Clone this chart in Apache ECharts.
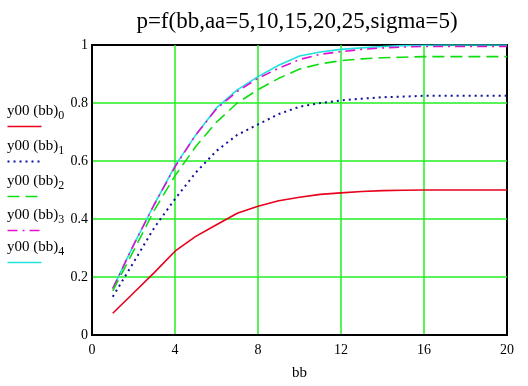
<!DOCTYPE html>
<html>
<head>
<meta charset="utf-8">
<script src="https://cdn.jsdelivr.net/npm/echarts@6/dist/echarts.min.js"></script>
<style>
    html, body { margin: 0; padding: 0; background: #fff; }
    #chart { width: 528px; height: 386px; }
</style>
</head>
<body>
<div id="chart"></div>
<script>
    const titleText = 'p=f(bb,aa=5,10,15,20,25,sigma=5)'
    const bb = [1, 2, 3, 4, 5, 6, 7, 8, 9, 10, 11, 12, 13, 14, 15, 16, 17, 18, 19, 20]
    const y0 = [0.075, 0.145, 0.215, 0.289, 0.34, 0.38, 0.42, 0.444, 0.463, 0.475, 0.485, 0.49, 0.495, 0.498, 0.499, 0.5, 0.5, 0.5, 0.5, 0.5]
    const y1 = [0.132, 0.25, 0.37, 0.469, 0.56, 0.635, 0.69, 0.726, 0.762, 0.787, 0.8, 0.809, 0.815, 0.82, 0.822, 0.825, 0.825, 0.825, 0.825, 0.825]
    const y2 = [0.152, 0.29, 0.43, 0.549, 0.65, 0.734, 0.8, 0.846, 0.885, 0.917, 0.935, 0.946, 0.952, 0.956, 0.958, 0.96, 0.96, 0.96, 0.96, 0.96]
    const y3 = [0.16, 0.31, 0.45, 0.58, 0.69, 0.78, 0.84, 0.885, 0.92, 0.95, 0.968, 0.977, 0.985, 0.99, 0.993, 0.995, 0.995, 0.995, 0.995, 0.995]
    const y4 = [0.161, 0.31, 0.45, 0.583, 0.69, 0.783, 0.845, 0.891, 0.93, 0.962, 0.976, 0.985, 0.99, 0.995, 0.998, 0.999, 1.0, 1.0, 1.0, 1.0]
    const names = ['y00 (bb)', 'y00 (bb)', 'y00 (bb)', 'y00 (bb)', 'y00 (bb)']

    const seriesValues = [y0, y1, y2, y3, y4]
    const colors = ['#e8001c', '#1010a0', '#10dd10', '#e010d0', '#20e0e0']
    const lineTypes = ['solid', [2, 4], [12, 6], [10, 5, 2, 5], 'solid']
    const widths = [1.6, 2, 1.6, 1.6, 1.6]
    const serif = 'Liberation Serif'

    const chart = echarts.init(document.getElementById('chart'))

    let series = seriesValues.map((vals, i) => ({
        name: names[i] + i,
        type: 'line',
        data: bb.map((x, k) => [x, vals[k]]),
        showSymbol: false,
        smooth: false,
        z: 10 - i,
        lineStyle: { color: colors[i], width: widths[i], type: lineTypes[i] }
    }))

    // legend on the left: label with subscript, line sample underneath
    const legendTop = [104, 139, 174, 208, 240]
    let legendGraphics = []
    names.forEach((n, i) => {
        legendGraphics.push({
            type: 'text',
            left: 7,
            top: legendTop[i],
            style: {
                text: '{a|' + n + '}{s|' + i + '}',
                rich: {
                    a: { fontFamily: serif, fontSize: 15, fill: '#000' },
                    s: { fontFamily: serif, fontSize: 12, fill: '#000', padding: [8, 0, 0, 0] }
                }
            }
        })
        legendGraphics.push({
            type: 'line',
            left: 5,
            top: legendTop[i] + 20,
            shape: { x1: 0, y1: 0, x2: 34, y2: 0 },
            style: { stroke: colors[i], lineWidth: widths[i], lineDash: lineTypes[i] === 'solid' ? null : lineTypes[i] }
        })
    })

    const options = {
        backgroundColor: '#fff',
        title: {
            text: titleText,
            left: 292,
            textAlign: 'center',
            top: 5,
            textStyle: { fontFamily: serif, fontSize: 23, fontWeight: 'normal', color: '#000' }
        },
        grid: {
            left: 92,
            right: 21,
            top: 45,
            bottom: 49,
            show: true,
            borderColor: '#000',
            borderWidth: 2,
            backgroundColor: '#fff'
        },
        xAxis: {
            type: 'value',
            min: 0,
            max: 20,
            interval: 4,
            name: 'bb',
            nameLocation: 'middle',
            nameGap: 31,
            nameTextStyle: { fontFamily: serif, fontSize: 15, color: '#000' },
            axisLine: { show: true, lineStyle: { color: '#000', width: 2 } },
            axisTick: { show: false },
            axisLabel: { fontFamily: serif, fontSize: 14, color: '#000', margin: 8 },
            splitLine: { show: true, showMinLine: false, showMaxLine: false, lineStyle: { color: '#22ee22', width: 1.5 } }
        },
        yAxis: {
            type: 'value',
            min: 0,
            max: 1,
            interval: 0.2,
            axisLine: { show: true, lineStyle: { color: '#000', width: 2 } },
            axisTick: { show: false },
            axisLabel: { fontFamily: serif, fontSize: 14, color: '#000', margin: 4 },
            splitLine: { show: true, showMinLine: false, showMaxLine: false, lineStyle: { color: '#22ee22', width: 1.5 } }
        },
        graphic: legendGraphics,
        series: series
    }
    chart.setOption(options)
</script>
</body>
</html>
